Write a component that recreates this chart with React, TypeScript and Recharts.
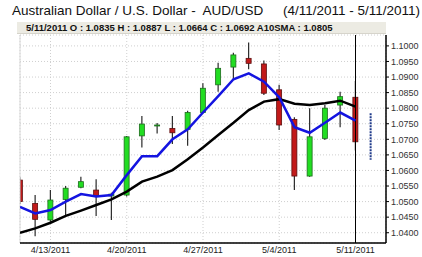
import { ComposedChart, Bar, Line, XAxis, YAxis, CartesianGrid, ReferenceLine } from "recharts";

// AUD/USD daily candles, 4/11/2011 - 5/11/2011
const DATES = [
  "4/11/2011", "4/12/2011", "4/13/2011", "4/14/2011", "4/15/2011", "4/18/2011", "4/19/2011",
  "4/20/2011", "4/21/2011", "4/22/2011", "4/25/2011", "4/26/2011", "4/27/2011", "4/28/2011",
  "4/29/2011", "5/2/2011", "5/3/2011", "5/4/2011", "5/5/2011", "5/6/2011", "5/9/2011",
  "5/10/2011", "5/11/2011",
];
const OPEN = [
  1.0569, 1.0494, 1.0441, 1.0507, 1.0546, 1.0537, 1.0518, 1.0521, 1.0711, 1.0743, 1.0735, 1.0732,
  1.0786, 1.0875, 1.0932, 1.0960, 1.0942, 1.0859, 1.0764, 1.0582, 1.0703, 1.0810, 1.0835,
];
const HIGH = [
  1.0578, 1.0521, 1.0537, 1.0550, 1.0580, 1.0572, 1.0528, 1.0711, 1.0775, 1.0752, 1.0775, 1.0792,
  1.0880, 1.0946, 1.0978, 1.1011, 1.0953, 1.0875, 1.0771, 1.0800, 1.0810, 1.0853, 1.0887,
];
const LOW = [
  1.0492, 1.0389, 1.0435, 1.0457, 1.0543, 1.0454, 1.0441, 1.0516, 1.0674, 1.0719, 1.0685, 1.0679,
  1.0784, 1.0853, 1.0893, 1.0925, 1.0842, 1.0730, 1.0537, 1.0580, 1.0698, 1.0739, 1.0664,
];
const CLOSE = [
  1.0500, 1.0443, 1.0505, 1.0543, 1.0564, 1.0518, 1.0524, 1.0708, 1.0749, 1.0746, 1.0721, 1.0786,
  1.0864, 1.0928, 1.0971, 1.0944, 1.0848, 1.0746, 1.0582, 1.0708, 1.0800, 1.0837, 1.0692,
];
// blue short average and black 10-day SMA
const SMA_FAST = [
  1.0483, 1.0462, 1.0473, 1.0500, 1.0524, 1.0516, 1.0521, 1.0585, 1.0646, 1.0646, 1.0700, 1.0732,
  1.0786, 1.0839, 1.0893, 1.0912, 1.0885, 1.0835, 1.0739, 1.0721, 1.0753, 1.0786, 1.0760,
];
const SMA10 = [
  1.0400, 1.0414, 1.0432, 1.0454, 1.0471, 1.0489, 1.0507, 1.0532, 1.0564, 1.0580, 1.0601, 1.0636,
  1.0674, 1.0714, 1.0753, 1.0794, 1.0821, 1.0829, 1.0814, 1.0810, 1.0816, 1.0824, 1.0805,
];
// next-day range marker (dotted blue bar right of the last candle)
const NEXT_DAY = "5/12/2011";
const NEXT_RANGE = [1.0634, 1.0784];

const X_TICK_DATES = ["4/13/2011", "4/20/2011", "4/27/2011", "5/4/2011", "5/11/2011"];
const Y_TICKS = [1.04, 1.045, 1.05, 1.055, 1.06, 1.065, 1.07, 1.075, 1.08, 1.085, 1.09, 1.095, 1.1];

const W = 422;
const H = 257;
const MARGIN = { top: 35, right: 0, bottom: 0, left: 20 };
const FONT = '"Liberation Sans", Arial, sans-serif';

const ALL_DATES = [...DATES, NEXT_DAY];

const data = [
  ...DATES.map((d, i) => ({
    idx: i, date: d, open: OPEN[i], high: HIGH[i], low: LOW[i], close: CLOSE[i],
    range: [LOW[i], HIGH[i]], fast: SMA_FAST[i], sma10: SMA10[i], proj: false,
  })),
  {
    idx: DATES.length, date: NEXT_DAY, open: null, high: NEXT_RANGE[1], low: NEXT_RANGE[0], close: null,
    range: NEXT_RANGE, fast: null, sma10: null, proj: true,
  },
];

const last = DATES.length - 1;
const headerText =
  `${DATES[last]} O : ${OPEN[last].toFixed(4)} H : ${HIGH[last].toFixed(4)} L : ${LOW[last].toFixed(4)} ` +
  `C : ${CLOSE[last].toFixed(4)} A10SMA : ${SMA10[last].toFixed(4)}`;

const Candle = (props: any) => {
  const { x, y, width, height, payload } = props;
  if (x == null || y == null) return null;
  const top = Math.min(y, y + height);
  const bot = Math.max(y, y + height);
  const cx = x + width / 2;
  if (payload.proj) {
    return <line x1={cx} x2={cx} y1={top} y2={bot} stroke="#1f3a8a" strokeWidth={2} strokeDasharray="2 1" />;
  }
  const k = (bot - top) / (payload.high - payload.low);
  const py = (v: number) => top + (payload.high - v) * k;
  const yO = py(payload.open);
  const yC = py(payload.close);
  const up = payload.close >= payload.open;
  let left = x;
  let w = width;
  if (left < MARGIN.left) {
    w -= MARGIN.left - left;
    left = MARGIN.left;
  }
  return (
    <g>
      <line x1={cx} x2={cx} y1={top} y2={bot} stroke="#2a2a2a" strokeWidth={1.2} />
      <rect
        x={left} y={Math.min(yO, yC)} width={w} height={Math.max(1, Math.abs(yC - yO))}
        fill={up ? "#22dd22" : "#c21a1a"} stroke={up ? "#1d6b1d" : "#5c0f0f"} strokeWidth={0.8}
      />
    </g>
  );
};

export default function App() {
  const xTicks = X_TICK_DATES.map(d => ALL_DATES.indexOf(d));
  return (
    <div style={{ position: "relative", width: W, height: H, background: "#fff", fontFamily: FONT, overflow: "hidden" }}>
      <style>{"body{margin:0}"}</style>
      <div style={{ position: "absolute", left: 12, top: 2, fontSize: 13.5, color: "#111", whiteSpace: "pre", lineHeight: "18px" }}>
        Australian Dollar / U.S. Dollar -  AUD/USD
      </div>
      <div style={{ position: "absolute", right: 2, top: 2, fontSize: 13.5, color: "#111", whiteSpace: "pre", lineHeight: "18px" }}>
        (4/11/2011 - 5/11/2011)
      </div>
      <div
        style={{
          position: "absolute", left: 17, top: 22, width: 369, height: 12, background: "#ecebe3",
          borderBottom: "1px solid #d6d4cb", boxSizing: "border-box",
        }}
      />
      <div style={{ position: "absolute", left: 26, top: 22, fontSize: 9.5, fontWeight: "bold", color: "#111", lineHeight: "12px", whiteSpace: "pre" }}>
        {headerText}
      </div>
      <div style={{ position: "absolute", left: 0, top: 0 }}>
        <ComposedChart width={W} height={H} data={data} margin={MARGIN}>
          <CartesianGrid stroke="#cfcfcf" strokeDasharray="1 2" />
          <XAxis
            dataKey="idx" type="number" domain={[0, 24]} ticks={xTicks} allowDataOverflow
            tickFormatter={(v: number) => ALL_DATES[v] ?? ""}
            tick={{ fontSize: 9, fill: "#222", fontFamily: FONT }}
            tickLine={false} tickSize={0} tickMargin={4} height={14}
            axisLine={{ stroke: "#000", strokeWidth: 1.5 }}
          />
          <YAxis
            orientation="right" domain={[1.0367, 1.1035]} ticks={Y_TICKS} allowDataOverflow
            tickFormatter={(v: number) => v.toFixed(4)}
            tick={{ fontSize: 9, fill: "#333", fontFamily: FONT }}
            tickSize={3} tickMargin={2} width={36} interval={0}
            tickLine={{ stroke: "#000" }}
            axisLine={{ stroke: "#000", strokeWidth: 1.5 }}
          />
          <ReferenceLine x={0} stroke="#d8d8d8" />
          <Bar dataKey="range" barSize={5} shape={<Candle />} isAnimationActive={false} />
          <ReferenceLine x={last} stroke="#000" strokeWidth={1} />
          <Line dataKey="sma10" type="linear" stroke="#000" strokeWidth={2.5} dot={false} isAnimationActive={false} />
          <Line dataKey="fast" type="linear" stroke="#1414e0" strokeWidth={2.5} dot={false} isAnimationActive={false} />
        </ComposedChart>
      </div>
    </div>
  );
}
